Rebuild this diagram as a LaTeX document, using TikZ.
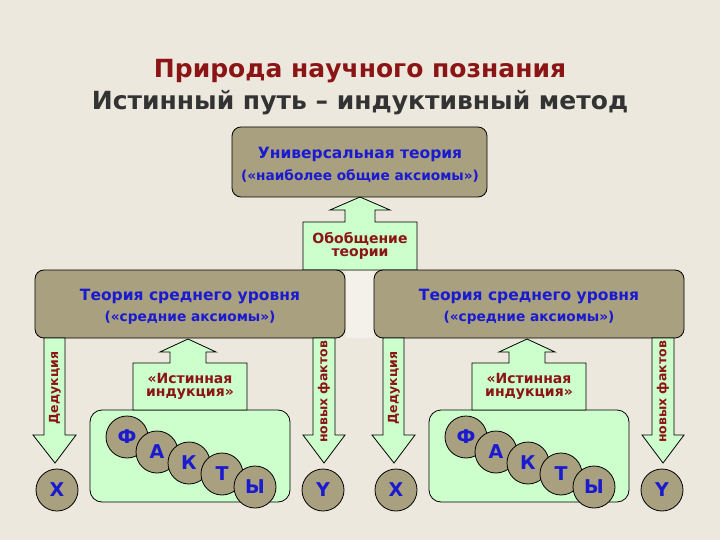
\documentclass[tikz,border=0pt]{standalone}
\usepackage{fontspec}
\setmainfont{DejaVu Sans}
\definecolor{bg}{HTML}{ECE8DE}
\definecolor{olive}{HTML}{A8A07E}
\definecolor{lgreen}{HTML}{CCFFCC}
\definecolor{dred}{HTML}{8B1414}
\definecolor{tblue}{HTML}{1A1AD0}
\definecolor{tgray}{HTML}{333333}
\tikzset{
  obox/.style={draw=black,fill=olive,rounded corners=9pt,line width=0.8pt},
  garrow/.style={draw=black,fill=lgreen,line width=0.8pt,line join=miter},
  circ/.style={circle,draw=black,fill=olive,minimum size=42pt,inner sep=0pt,line width=0.8pt,font=\bfseries\fontsize{19}{19}\selectfont,text=tblue},
  btxt/.style={text=tblue,font=\bfseries\fontsize{15.5}{18}\selectfont,align=center},
  stxt/.style={text=tblue,font=\bfseries\fontsize{13.7}{16}\selectfont,align=center},
  rtxt/.style={text=dred,font=\bfseries\fontsize{14}{15}\selectfont,align=center},
  vtxt/.style={text=dred,rotate=90,font=\bfseries\fontsize{12.5}{14}\selectfont},
}
\begin{document}
\begin{tikzpicture}[x=1pt,y=-1pt]
\fill[bg] (0,0) rectangle (720,540);
\useasboundingbox (0,0) rectangle (720,540);
\node[text=dred,font=\bfseries\fontsize{25}{28}\selectfont] (t1) at (360,71) {Природа научного познания};
\node[text=tgray,font=\bfseries\fontsize{25}{28}\selectfont] (t2) at (360,103) {Истинный путь – индуктивный метод};
% generalisation arrow
\path[garrow] (360,197) -- (390,210) -- (375,210) -- (375,222) -- (417,222) -- (417,270) -- (303,270) -- (303,222) -- (345,222) -- (345,210) -- (330,210) -- cycle;
\fill[bg!60!white] (346,271) rectangle (374,338);
\node[rtxt] (gen) at (360,246) {Обобщение\\[-2pt]теории};
% top box
\draw[obox] (232,127) rectangle (487,197);
\node[btxt] (u1) at (360,154) {Универсальная теория};
\node[stxt] (u2) at (360,176) {(«наиболее общие аксиомы»)};
\foreach \o/\n in {0/L,339/R}{
\begin{scope}[xshift=\o]
\draw[obox] (35,270) rectangle (345,338);
\node[btxt] (m\n) at (190,297) {Теория среднего уровня};
\node[stxt] (a\n) at (190,318) {(«средние аксиомы»)};
% deduction arrow
\path[garrow] (44,338) -- (65,338) -- (65,435) -- (76,435) -- (55,463) -- (33,435) -- (44,435) -- cycle;
\node[vtxt] (d\n) at (55,388) {Дедукция};
% new facts arrow
\path[garrow] (313,338) -- (335,338) -- (335,435) -- (345,435) -- (324,463) -- (303,435) -- (313,435) -- cycle;
\node[vtxt] (n\n) at (324,392) {новых фактов};
% facts box
\draw[line width=0.8pt,fill=lgreen,rounded corners=12pt] (90,410) rectangle (290,502);
% induction arrow
\path[garrow] (188,339) -- (216,352) -- (206,352) -- (206,363) -- (247,363) -- (247,410) -- (133,410) -- (133,363) -- (170,363) -- (170,352) -- (160,352) -- cycle;
\node[rtxt] (i\n) at (190,386) {«Истинная\\[-2pt]индукция»};
\node[circ] (x\n) at (57,490) {Х};
\node[circ] (y\n) at (323,490) {Y};
\node[circ] (f1\n) at (127,437) {Ф};
\node[circ] (f2\n) at (157,452) {А};
\node[circ] (f3\n) at (189,463) {К};
\node[circ] (f4\n) at (222,474) {Т};
\node[circ] (f5\n) at (255,487) {Ы};
\end{scope}}
\end{tikzpicture}
\end{document}
